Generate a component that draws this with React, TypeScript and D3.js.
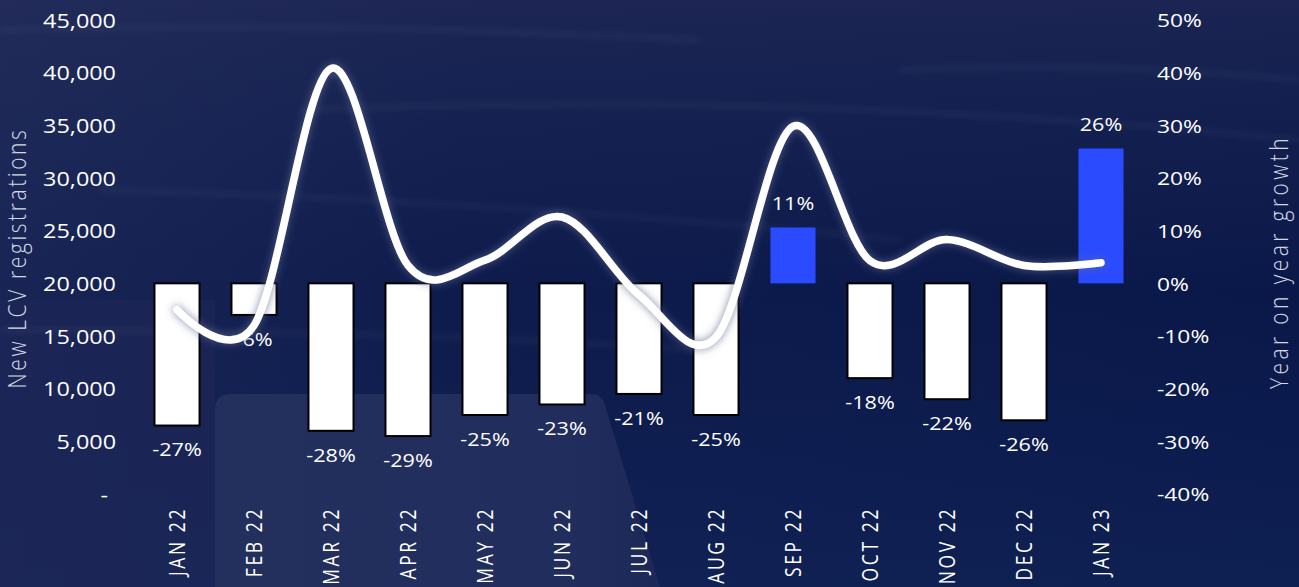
import React from "react";
import * as d3 from "d3";

const categories = ["JAN 22", "FEB 22", "MAR 22", "APR 22", "MAY 22", "JUN 22", "JUL 22", "AUG 22", "SEP 22", "OCT 22", "NOV 22", "DEC 22", "JAN 23"];
const growth = [-0.27, -0.06, -0.28, -0.29, -0.25, -0.23, -0.21, -0.25, 0.106, -0.18, -0.22, -0.26, 0.256];
const registrations = [17500, 16000, 40400, 21700, 22200, 26300, 18900, 14900, 34900, 22150, 24150, 21700, 21950];
const leftTicks = [0, 5000, 10000, 15000, 20000, 25000, 30000, 35000, 40000, 45000];
const rightTicks = [-0.4, -0.3, -0.2, -0.1, 0, 0.1, 0.2, 0.3, 0.4, 0.5];
const leftTitle = "New LCV registrations";
const rightTitle = "Year on year growth";

const W = 1299;
const H = 587;
const SX = 1.2;
const FONT = "'Open Sans', 'Noto Sans', sans-serif";

export default function App() {
  const x = d3.scaleBand<string>().domain(categories).range([138.5, 1139.5]).paddingInner(0.415).paddingOuter(0.2075);
  const yL = d3.scaleLinear().domain([0, 45000]).range([494, 20]);
  const yR = d3.scaleLinear().domain([-0.4, 0.5]).range([494, 20]);
  const cx = (c: string) => (x(c) as number) + x.bandwidth() / 2;
  const fmtL = d3.format(",");
  const pct = (v: number) => `${v < 0 ? "-" : ""}${Math.round(Math.abs(v) * 100)}%`;

  const line = d3
    .line<number>()
    .x((_, i) => cx(categories[i]))
    .y((d) => yL(d))
    .curve(d3.curveCardinal.tension(0));

  return (
    <svg width={W} height={H} style={{ position: "fixed", left: 0, top: 0 }} fontFamily={FONT}>
      <defs>
        <linearGradient id="bgV" x1="0" y1="0" x2="0" y2="1">
          <stop offset="0" stopColor="#1b2452" />
          <stop offset="0.12" stopColor="#152150" />
          <stop offset="0.5" stopColor="#0a1849" />
          <stop offset="0.8" stopColor="#0c1c4e" />
          <stop offset="1" stopColor="#0e1f52" />
        </linearGradient>
        <linearGradient id="bgL" x1="0" y1="0" x2="1" y2="0">
          <stop offset="0" stopColor="#2a3462" stopOpacity="0.45" />
          <stop offset="0.35" stopColor="#2a3462" stopOpacity="0.12" />
          <stop offset="1" stopColor="#2a3462" stopOpacity="0" />
        </linearGradient>
        <linearGradient id="patch" x1="0" y1="0" x2="1" y2="0">
          <stop offset="0" stopColor="#232f5d" />
          <stop offset="0.8" stopColor="#212d5c" />
          <stop offset="1" stopColor="#1c2858" />
        </linearGradient>
        <filter id="blur8" x="-20%" y="-200%" width="140%" height="500%">
          <feGaussianBlur stdDeviation="3" />
        </filter>
        <filter id="glow" x="-10%" y="-30%" width="120%" height="160%">
          <feGaussianBlur in="SourceAlpha" stdDeviation="4.5" result="b" />
          <feFlood floodColor="#5d6890" floodOpacity="0.8" />
          <feComposite in2="b" operator="in" result="s" />
          <feMerge>
            <feMergeNode in="s" />
            <feMergeNode in="SourceGraphic" />
          </feMerge>
        </filter>
      </defs>

      {/* background */}
      <rect x={0} y={0} width={W} height={H} fill="url(#bgV)" />
      <rect x={0} y={0} width={W} height={H} fill="url(#bgL)" />
      <rect x={0} y={300} width={215} height={287} fill="#1c2757" opacity={0.7} />
      <path d="M215,587 L215,410 Q215,394 232,394 L592,394 Q600,394 604,402 L660,587 Z" fill="url(#patch)" />
      <g filter="url(#blur8)" opacity={0.07} stroke="#ffffff" strokeWidth={3} fill="none">
        <path d="M0,30 Q300,20 700,40" />
        <path d="M100,190 Q500,200 900,240" />
        <path d="M300,110 Q800,90 1299,140" />
        <path d="M900,70 Q1100,60 1299,80" />
        <path d="M0,330 Q400,330 700,350" />
      </g>

      {/* left axis */}
      {leftTicks.map((t) => (
        <text
          key={"l" + t}
          transform={`translate(${t === 0 ? 108 : 116},${yL(t)}) scale(${SX},1)`}
          textAnchor="end"
          dominantBaseline="central"
          fontSize={19.5}
          fill="#ffffff"
        >
          {t === 0 ? "-" : fmtL(t)}
        </text>
      ))}
      <text
        transform={`translate(26,258) scale(${SX},1) rotate(-90)`}
        textAnchor="middle"
        fontSize={21}
        fontWeight={300}
        letterSpacing={2.6}
        fill="#d4d8e4"
      >
        {leftTitle}
      </text>

      {/* right axis */}
      {rightTicks.map((t) => (
        <text
          key={"r" + t}
          transform={`translate(1157,${yR(t)}) scale(${SX},1)`}
          textAnchor="start"
          dominantBaseline="central"
          fontSize={19}
          fill="#ffffff"
        >
          {pct(t)}
        </text>
      ))}
      <text
        transform={`translate(1288,262) scale(${SX},1) rotate(-90)`}
        textAnchor="middle"
        fontSize={21}
        fontWeight={300}
        letterSpacing={3.4}
        fill="#d4d8e4"
      >
        {rightTitle}
      </text>

      {/* category labels */}
      {categories.map((c) => (
        <text
          key={"c" + c}
          transform={`translate(${cx(c) + 7.5},507) scale(${SX},1) rotate(-90)`}
          textAnchor="end"
          fontSize={17.5}
          fontWeight={500}
          letterSpacing={2.6}
          fill="#ffffff"
        >
          {c}
        </text>
      ))}

      {/* bars */}
      {categories.map((c, i) => {
        const v = growth[i];
        const y0 = yR(0);
        const y1 = yR(v);
        return v < 0 ? (
          <rect
            key={"b" + c}
            x={x(c)}
            y={y0}
            width={x.bandwidth()}
            height={y1 - y0}
            fill="#ffffff"
            stroke="#000000"
            strokeWidth={2}
          />
        ) : (
          <rect key={"b" + c} x={x(c)} y={y1} width={x.bandwidth()} height={y0 - y1} fill="#2a4bff" />
        );
      })}

      {/* bar labels */}
      {categories.map((c, i) => {
        const v = growth[i];
        const yy = v < 0 ? yR(v) + 24 : yR(v) - 24;
        return (
          <text
            key={"t" + c}
            transform={`translate(${cx(c)},${yy}) scale(${SX},1)`}
            textAnchor="middle"
            dominantBaseline="central"
            fontSize={18}
            fill="#ffffff"
          >
            {pct(v)}
          </text>
        );
      })}

      {/* line */}
      <path
        d={line(registrations) || ""}
        fill="none"
        stroke="#ffffff"
        strokeWidth={7.5}
        strokeLinecap="round"
        strokeLinejoin="round"
        filter="url(#glow)"
      />
    </svg>
  );
}
